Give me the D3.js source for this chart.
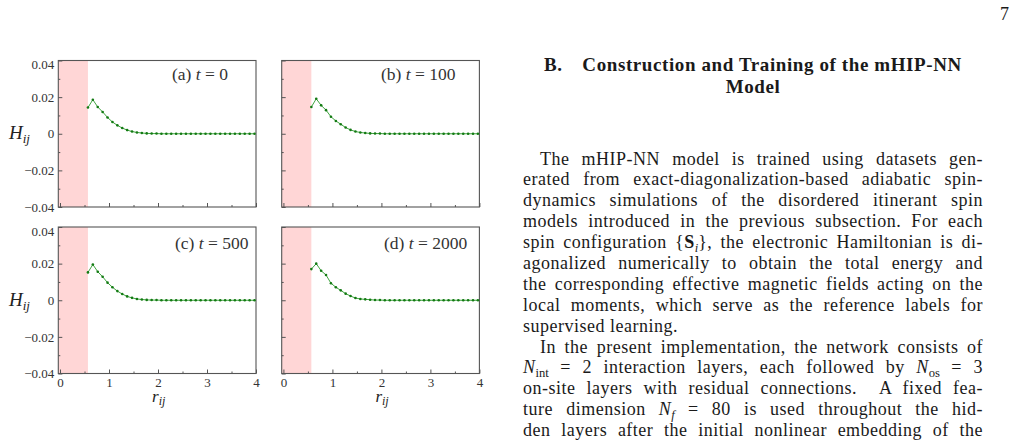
<!DOCTYPE html>
<html>
<head>
<meta charset="utf-8">
<script src="https://cdn.jsdelivr.net/npm/d3@7"></script>
<style>
  body { margin: 0; background: #fff; width: 1022px; height: 444px; overflow: hidden; position: relative; font-family: "Liberation Serif", "DejaVu Serif", serif; color: #1a1a1a; }
  svg { position: absolute; left: 0; top: 0; }
  .col { position: absolute; left: 523px; width: 460px; }
  .ln { white-space: nowrap; text-align: justify; text-align-last: justify; font-size: 18px; height: 20.9px; line-height: 20.9px; letter-spacing: 0.5px; }
  .ln.last { text-align-last: left; }
  .ln.ind { padding-left: 17px; }
  .hd { font-weight: bold; font-size: 19px; line-height: 22px; height: 22px; letter-spacing: 0.6px; text-align: center; white-space: nowrap; }
  sub { font-size: 0.7em; vertical-align: -0.3em; line-height: 0; letter-spacing: 0; }
  .pg { position: absolute; left: 1000px; top: 4px; font-size: 18px; }
</style>
</head>
<body>
<script>
// radial distance of each neighbour shell
var rValues = [0.57, 0.67, 0.77, 0.87, 0.97, 1.07, 1.17, 1.27, 1.37, 1.47, 1.57, 1.67, 1.77, 1.87, 1.97,
  2.07, 2.17, 2.27, 2.37, 2.47, 2.57, 2.67, 2.77, 2.87, 2.97, 3.07, 3.17, 3.27, 3.37, 3.47, 3.57, 3.67, 3.77, 3.87, 3.97];

// H_ij for each snapshot
var hT0 = [0.0143, 0.0186, 0.0146, 0.0119, 0.0089, 0.0064, 0.0046, 0.0031, 0.0020, 0.0012, 0.0007, 0.0004, 0.0002, 0.0001, 0.0001,
  0, 0, 0, 0, 0, 0, 0, 0, 0, 0, 0, 0, 0, 0, 0, 0, 0, 0, 0, 0];
var hT100 = [0.0146, 0.0191, 0.0155, 0.0129, 0.0093, 0.0070, 0.0052, 0.0034, 0.0021, 0.0012, 0.0007, 0.0004, 0.0002, 0.0001, 0.0001,
  0, 0, 0, 0, 0, 0, 0, 0, 0, 0, 0, 0, 0, 0, 0, 0, 0, 0, 0, 0];
var hT500 = [0.0152, 0.0195, 0.0156, 0.0128, 0.0096, 0.0071, 0.0050, 0.0034, 0.0021, 0.0013, 0.0007, 0.0004, 0.0002, 0.0001, 0.0001,
  0, 0, 0, 0, 0, 0, 0, 0, 0, 0, 0, 0, 0, 0, 0, 0, 0, 0, 0, 0];
var hT2000 = [0.0170, 0.0200, 0.0161, 0.0138, 0.0093, 0.0071, 0.0054, 0.0036, 0.0023, 0.0012, 0.0007, 0.0005, 0.0003, 0.0001, 0.0001,
  0, 0, 0, 0, 0, 0, 0, 0, 0, 0, 0, 0, 0, 0, 0, 0, 0, 0, 0, 0];

var panelTags = ['(a)', '(b)', '(c)', '(d)'];
var panelTimes = ['0', '100', '500', '2000'];
var yMajorTicks = [-0.04, -0.02, 0, 0.02, 0.04];
var yMinorTicks = [-0.03, -0.01, 0.01, 0.03];
var xMajorTicks = [0, 1, 2, 3, 4];
var xMinorTicks = [0.5, 1.5, 2.5, 3.5];
var shadeEnd = 0.57;

var headingLines = ['B.\u2003Construction and Training of the mHIP-NN', 'Model'];
var bodyLines = [
  ['ind', 'The mHIP-NN model is trained using datasets gen-'],
  ['', 'erated from exact-diagonalization-based adiabatic spin-'],
  ['', 'dynamics simulations of the disordered itinerant spin'],
  ['', 'models introduced in the previous subsection. For each'],
  ['', 'spin configuration {<b>S</b><sub><i>i</i></sub>}, the electronic Hamiltonian is di-'],
  ['', 'agonalized numerically to obtain the total energy and'],
  ['', 'the corresponding effective magnetic fields acting on the'],
  ['', 'local moments, which serve as the reference labels for'],
  ['last', 'supervised learning.'],
  ['ind', 'In the present implementation, the network consists of'],
  ['', '<i>N</i><sub>int</sub> = 2 interaction layers, each followed by <i>N</i><sub>os</sub> = 3'],
  ['', 'on-site layers with residual connections. &nbsp;A fixed fea-'],
  ['', 'ture dimension <i>N<sub>f</sub></i> = 80 is used throughout the hid-'],
  ['', 'den layers after the initial nonlinear embedding of the']
];

var serif = 'Liberation Serif, DejaVu Serif, serif';

var svg = d3.select('body').append('svg')
  .attr('width', 1022)
  .attr('height', 444);

var panels = [
  {h: hT0, x0: 58.3, x1: 256, y0: 60.5, y1: 207, labX: 172, labY: 74, left: true, bottom: false},
  {h: hT100, x0: 281.7, x1: 479.4, y0: 60.5, y1: 207, labX: 381, labY: 74, left: false, bottom: false},
  {h: hT500, x0: 58.3, x1: 256, y0: 227, y1: 373.5, labX: 175, labY: 243, left: true, bottom: true},
  {h: hT2000, x0: 281.7, x1: 479.4, y0: 227, y1: 373.5, labX: 384, labY: 243, left: false, bottom: true}
];

function fmtY(d) {
  if (d === 0) return '0';
  return (d < 0 ? '\u2212' : '') + Math.abs(d).toFixed(2);
}

panels.forEach(function(p, i) {
  var x = d3.scaleLinear().domain([-0.035, 4]).range([p.x0, p.x1]);
  var y = d3.scaleLinear().domain([-0.04, 0.04]).range([p.y1, p.y0]);
  var g = svg.append('g');

  g.append('rect')
    .attr('x', x(-0.035))
    .attr('y', p.y0)
    .attr('width', x(shadeEnd) - x(-0.035))
    .attr('height', p.y1 - p.y0)
    .attr('fill', '#ffd6d6');

  // axes (ticks point into the frame)
  var ya = g.append('g').attr('transform', 'translate(' + p.x0 + ',0)')
    .call(d3.axisLeft(y).tickValues(yMajorTicks).tickSize(-4).tickPadding(4)
      .tickFormat(p.left ? fmtY : ''));
  g.append('g').attr('transform', 'translate(' + p.x0 + ',0)')
    .call(d3.axisLeft(y).tickValues(yMinorTicks).tickSize(-2).tickFormat(''));
  g.append('g').attr('transform', 'translate(0,' + p.y1 + ')')
    .call(d3.axisBottom(x).tickValues(xMajorTicks).tickSize(-4).tickPadding(4)
      .tickFormat(p.bottom ? d3.format('d') : ''));
  g.append('g').attr('transform', 'translate(0,' + p.y1 + ')')
    .call(d3.axisBottom(x).tickValues(xMinorTicks).tickSize(-2).tickFormat(''));

  g.selectAll('.domain').remove();
  g.selectAll('.tick line').attr('stroke', '#555');
  g.selectAll('.tick text')
    .attr('font-family', serif)
    .attr('font-size', 13)
    .attr('fill', '#333');
  ya.selectAll('.tick text').filter(function(d) { return d === 0.04; })
    .attr('dy', '0.62em');

  g.append('rect')
    .attr('x', p.x0)
    .attr('y', p.y0)
    .attr('width', p.x1 - p.x0)
    .attr('height', p.y1 - p.y0)
    .attr('fill', 'none')
    .attr('stroke', '#555')
    .attr('stroke-width', 1.1);

  var line = d3.line()
    .x(function(d, k) { return x(rValues[k]); })
    .y(function(d) { return y(d); });

  g.append('path')
    .datum(p.h)
    .attr('d', line)
    .attr('fill', 'none')
    .attr('stroke', '#2a9a2a')
    .attr('stroke-width', 0.9);

  g.selectAll('circle.pt')
    .data(p.h)
    .enter()
    .append('circle')
    .attr('class', 'pt')
    .attr('cx', function(d, k) { return x(rValues[k]); })
    .attr('cy', function(d) { return y(d); })
    .attr('r', 1.3)
    .attr('fill', '#137a13');

  var lab = g.append('text')
    .attr('x', p.labX)
    .attr('y', p.labY)
    .attr('dy', '0.35em')
    .attr('font-family', serif)
    .attr('font-size', 17.5)
    .attr('fill', '#333');
  lab.append('tspan').text(panelTags[i] + ' ');
  lab.append('tspan').attr('font-style', 'italic').text('t');
  lab.append('tspan').text(' = ' + panelTimes[i]);

  if (p.left) {
    var hl = g.append('text')
      .attr('x', 9)
      .attr('y', y(0))
      .attr('dy', '0.3em')
      .attr('font-family', serif)
      .attr('font-size', 19)
      .attr('fill', '#222');
    hl.append('tspan').attr('font-style', 'italic').text('H');
    hl.append('tspan').attr('font-style', 'italic').attr('font-size', 13).attr('dy', 4).text('ij');
  }
  if (p.bottom) {
    var rl = g.append('text')
      .attr('x', x(2) - 6)
      .attr('y', 402)
      .attr('font-family', serif)
      .attr('font-size', 17)
      .attr('fill', '#222');
    rl.append('tspan').attr('font-style', 'italic').text('r');
    rl.append('tspan').attr('font-style', 'italic').attr('font-size', 12).attr('dy', 3).text('ij');
  }
});

// page text
d3.select('body').append('div').attr('class', 'pg').text('7');

d3.select('body').append('div')
  .attr('class', 'col')
  .style('top', '54px')
  .selectAll('div')
  .data(headingLines)
  .enter()
  .append('div')
  .attr('class', 'hd')
  .text(function(d) { return d; });

d3.select('body').append('div')
  .attr('class', 'col')
  .style('top', '148.5px')
  .selectAll('div')
  .data(bodyLines)
  .enter()
  .append('div')
  .attr('class', function(d) { return 'ln ' + d[0]; })
  .html(function(d) { return d[1]; });
</script>
</body>
</html>
